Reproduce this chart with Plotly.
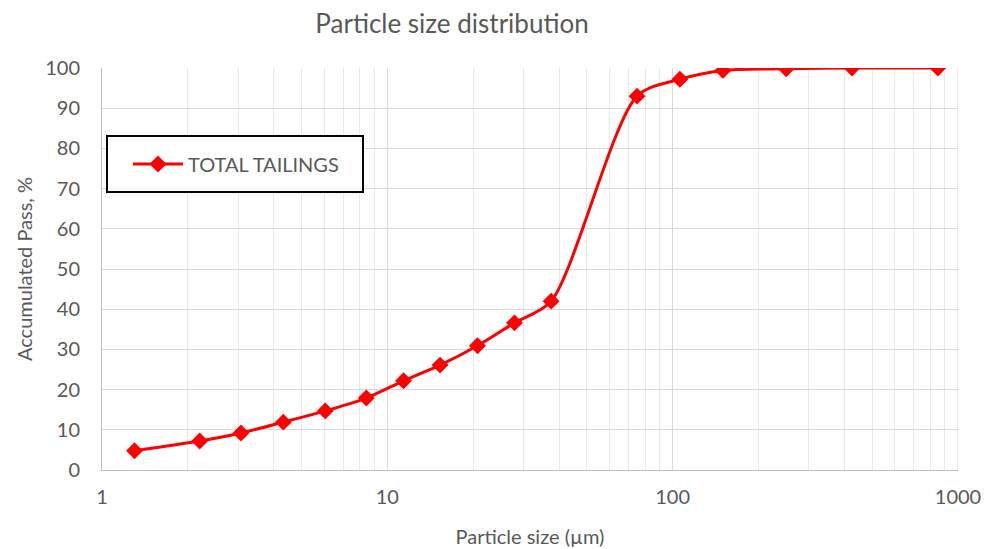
import plotly.graph_objects as go

size_um = [1.3, 2.2, 3.07, 4.32, 6.06, 8.44, 11.4, 15.3, 20.7, 27.9, 37.5, 75, 106, 150, 250, 425, 850]
passing = [4.8, 7.2, 9.2, 11.9, 14.7, 17.9, 22.2, 26.1, 30.9, 36.6, 42.0, 93.0, 97.2, 99.4, 99.8, 100.0, 100.0]
series_name = "TOTAL TAILINGS"
y_ticks = [0, 10, 20, 30, 40, 50, 60, 70, 80, 90, 100]
x_ticks = [1, 10, 100, 1000]

font_family = "Lato, Carlito, Liberation Sans, sans-serif"
grey = "#595959"

W, H = 984, 549
L, T, R, B = 102, 68, 26, 79  # plot area 856 x 402

fig = go.Figure()
fig.add_trace(go.Scatter(
    x=size_um, y=passing, name=series_name, mode="lines+markers",
    line=dict(color="#ff0000", width=3, shape="spline", smoothing=0.8),
    marker=dict(symbol="diamond", size=13, color="#ff0000"),
))

fig.update_layout(
    width=W, height=H,
    margin=dict(l=L, r=R, t=T, b=B, autoexpand=False),
    paper_bgcolor="white", plot_bgcolor="white",
    font=dict(family=font_family, color=grey, size=20),
    title=dict(text="Particle size distribution", x=452 / W, xanchor="center",
               xref="container", y=1 - 24 / H, yref="container", yanchor="middle",
               font=dict(size=26, color=grey)),
    showlegend=True,
    legend=dict(x=(128 - 102) / 856, y=(470 - 164) / 402, xanchor="left", yanchor="middle",
                borderwidth=0, bgcolor="rgba(0,0,0,0)",
                font=dict(size=20, color=grey), itemwidth=50),
)
fig.update_xaxes(
    type="log", range=[0, 3], tickvals=x_ticks, ticktext=[str(v) for v in x_ticks],
    showgrid=True, gridcolor="#d9d9d9", gridwidth=1,
    showline=True, linecolor="#bfbfbf", linewidth=1,
    ticks="", tickfont=dict(size=20, color=grey), ticklabelstandoff=9,
    title=dict(text="Particle size (µm)", font=dict(size=20, color=grey), standoff=22),
    minor=dict(showgrid=True, gridcolor="#e8e8e8", gridwidth=1, dtick="D1"),
    zeroline=False, automargin=False,
)
fig.update_yaxes(
    range=[0, 100], tickvals=y_ticks,
    showgrid=True, gridcolor="#d9d9d9", gridwidth=1,
    showline=True, linecolor="#bfbfbf", linewidth=1,
    ticks="", tickfont=dict(size=20, color=grey), ticklabelstandoff=17,
    title=dict(text="Accumulated Pass, %", font=dict(size=20, color=grey), standoff=7),
    zeroline=False, automargin=False,
)
# right border line at 1000
fig.add_shape(type="line", xref="x", yref="paper", x0=1000, x1=1000, y0=0, y1=1,
              line=dict(color="#d9d9d9", width=1), layer="below")
# legend frame
fig.add_shape(type="rect", xref="paper", yref="paper",
              x0=(107 - 102) / 856, x1=(363 - 102) / 856,
              y0=(470 - 192) / 402, y1=(470 - 136) / 402,
              line=dict(color="black", width=2), fillcolor="white", layer="above")

fig.write_html("out.html", config={"displayModeBar": False},
               post_script="document.body.style.margin='0';document.body.style.overflow='hidden';")
